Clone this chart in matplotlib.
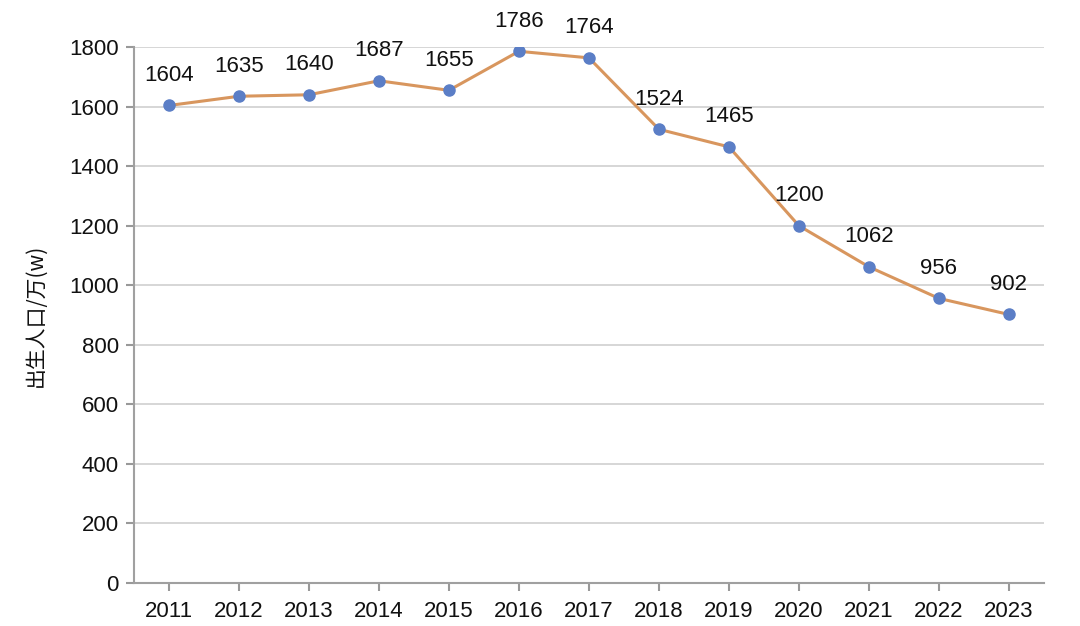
import matplotlib
matplotlib.use("Agg")
import matplotlib.pyplot as plt

plt.rcParams['font.family'] = ['Liberation Sans', 'Noto Sans CJK SC', 'DejaVu Sans']

# 出生人口数据（万）
years = ['2011', '2012', '2013', '2014', '2015', '2016', '2017',
         '2018', '2019', '2020', '2021', '2022', '2023']
births = [1604, 1635, 1640, 1687, 1655, 1786, 1764,
          1524, 1465, 1200, 1062, 956, 902]

fig = plt.figure(figsize=(10.8, 6.26), dpi=100)
ax = fig.add_axes([0.124, 0.0687, 0.8426, 0.856])

x = range(len(years))
ax.plot(x, births, color='#D8965E', linewidth=2.2, zorder=3)
ax.plot(x, births, 'o', color='#5B7EC6', markersize=8, zorder=4)

for xi, v in zip(x, births):
    ax.annotate(str(v), (xi, v), xytext=(0, 14), textcoords='offset points',
                ha='center', va='bottom', fontsize=16, color='#111111')

ax.set_xlim(-0.5, len(years) - 0.5)
ax.set_ylim(0, 1800)
ax.set_yticks(range(0, 1801, 200))
ax.set_xticks(list(x))
ax.set_xticklabels(years)
ax.tick_params(axis='both', labelsize=16, colors='#999999', labelcolor='#111111',
               length=6, width=1.5)
ax.tick_params(axis='x', pad=7)
ax.tick_params(axis='y', pad=5)

ax.grid(axis='y', color='#D0D0D0', linewidth=1.2)
ax.set_axisbelow(True)
for s in ['top', 'right']:
    ax.spines[s].set_visible(False)
for s in ['left', 'bottom']:
    ax.spines[s].set_color('#A0A0A0')
    ax.spines[s].set_linewidth(1.5)

ax.set_ylabel('出生人口/万(w)', fontsize=15, color='#111111',
              family=['Noto Sans CJK SC', 'DejaVu Sans'], labelpad=16)

fig.savefig('out.png', dpi=100)
